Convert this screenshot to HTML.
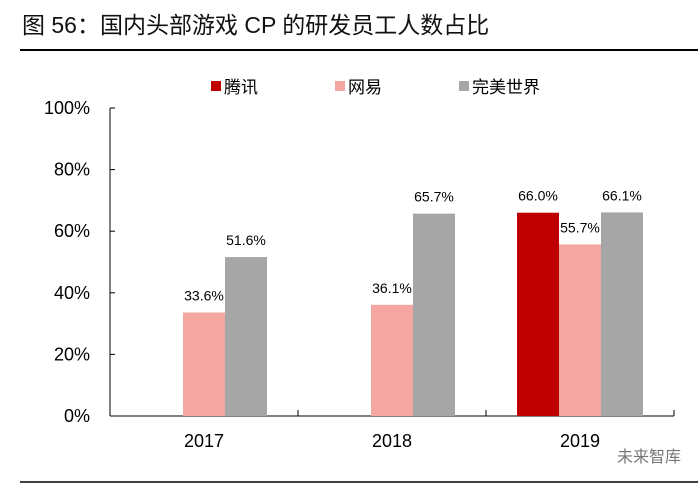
<!DOCTYPE html>
<html><head><meta charset="utf-8"><style>
body{margin:0;background:#fff;}
text{font-family:"Liberation Sans","Noto Sans CJK SC",sans-serif;}
</style></head><body>
<svg width="700" height="483" xmlns="http://www.w3.org/2000/svg">
<text x="22" y="33" font-size="23" fill="#111" font-family="'Liberation Sans','Noto Serif CJK SC',serif">图 56：国内头部游戏 CP 的研发员工人数占比</text>
<line x1="20" y1="50" x2="698" y2="50" stroke="#000" stroke-width="2"/>
<line x1="20" y1="482" x2="698" y2="482" stroke="#000" stroke-width="1.5"/>
<g id="legend"></g>
<g id="axes"></g>
<g id="bars"></g>
<text x="617" y="462" font-size="16" fill="#777">未来智库</text>
</svg>
<script>
const categories=["2017","2018","2019"];
const seriesNames=["腾讯","网易","完美世界"];
const tencent=[null,null,66.0];
const netease=[33.6,36.1,55.7];
const perfect=[51.6,65.7,66.1];
const yTicks=[0,20,40,60,80,100];
const colors=["#C00000","#F4A6A0","#A6A6A6"];
const NS="http://www.w3.org/2000/svg";
const X0=110,X1=674,Y0=416,Y1=108;
function ys(v){return Y0-(v/100)*(Y0-Y1);}
function xc(i){return X0+(X1-X0)/categories.length*(i+0.5);}
function mk(t,a,p){const e=document.createElementNS(NS,t);for(const k in a)e.setAttribute(k,a[k]);p.appendChild(e);return e;}
const axes=document.getElementById('axes'),bars=document.getElementById('bars'),leg=document.getElementById('legend');
let e=mk('line',{x1:X0,y1:Y1,x2:X0,y2:Y0,stroke:'#000','stroke-width':1},axes);


e=mk('line',{x1:X0,y1:Y0,x2:X1,y2:Y0,stroke:'#000','stroke-width':1},axes);


yTicks.forEach(t=>{
 const y=ys(t);
 mk('line',{x1:X0,y1:y,x2:X0+5,y2:y,stroke:'#000'},axes);
 const l=mk('text',{x:90,y:y+6,'font-size':18,'text-anchor':'end',fill:'#000'},axes);
 l.textContent=t+'%';
 
 
});
const cw=(X1-X0)/categories.length;
for(let i=0;i<=categories.length;i++){const x=X0+cw*i;mk('line',{x1:x,y1:Y0,x2:x,y2:Y0-6,stroke:'#000'},axes);}
categories.forEach((c,i)=>{
 const l=mk('text',{x:xc(i),y:447,'font-size':18,'text-anchor':'middle',fill:'#000'},axes);
 l.textContent=c;
 
 
});
const series=[tencent,netease,perfect];
const w=42;
series.forEach((s,si)=>{
 s.forEach((v,i)=>{
  if(v==null)return;
  const x=xc(i)-63+si*w;
  const r=mk('rect',{x:x,y:ys(v),width:w,height:Y0-ys(v),fill:colors[si]},bars);
  
  
  const t=mk('text',{x:x+w/2,y:ys(v)-12,'font-size':14,'text-anchor':'middle',fill:'#000'},bars);
  t.textContent=v.toFixed(1)+'%';
  
  
 });
});
const lx=[211,335,459];
seriesNames.forEach((n,i)=>{
 const r=mk('rect',{x:lx[i],y:81,width:10,height:10,fill:colors[i]},leg);
 
 
 const t=mk('text',{x:lx[i]+13,y:93,'font-size':17,fill:'#000'},leg);
 t.textContent=n;
 
 
});
</script>
</body></html>
